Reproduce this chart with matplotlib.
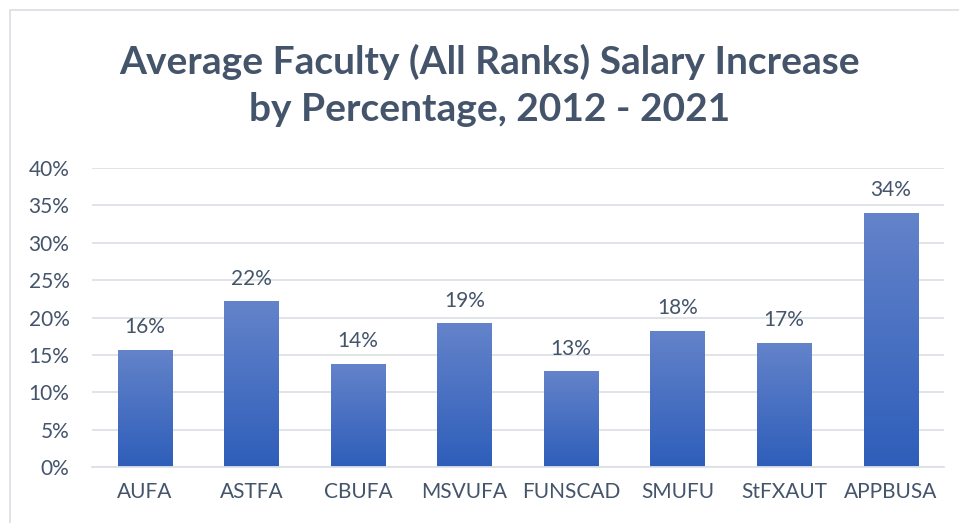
import matplotlib.pyplot as plt
import numpy as np
from matplotlib.patches import Rectangle
from matplotlib.ticker import FuncFormatter

categories = ['AUFA', 'ASTFA', 'CBUFA', 'MSVUFA', 'FUNSCAD', 'SMUFU', 'StFXAUT', 'APPBUSA']
values = [15.7, 22.2, 13.8, 19.2, 12.8, 18.2, 16.6, 34.0]
labels = ['16%', '22%', '14%', '19%', '13%', '18%', '17%', '34%']
yticks = [0, 5, 10, 15, 20, 25, 30, 35, 40]

plt.rcParams['font.family'] = ['Lato', 'DejaVu Sans']
txt = '#44546A'

fig = plt.figure(figsize=(9.59, 5.23), dpi=100)
ax = fig.add_axes([91.7 / 959, 1 - 467 / 523, (944 - 91.7) / 959, (467 - 168) / 523])

# outer chart frame
fig.patches.append(Rectangle((10 / 959, -0.05), 1.1, 1 - 10 / 523 + 0.05, transform=fig.transFigure,
                             fill=False, edgecolor='#D9DDE3', linewidth=1.2))

x = np.arange(len(categories))
w = 0.51
bars = ax.bar(x, values, width=w, color='none', zorder=2)

# vertical gradient fill, lighter at the top
top = np.array([100, 131, 202]) / 255
bot = np.array([46, 94, 186]) / 255
t = np.linspace(0, 1, 256)[:, None]
grad = (bot * (1 - t) + top * t)[:, None, :]
for b in bars:
    x0, y0 = b.get_x(), b.get_y()
    im = ax.imshow(grad, extent=[x0, x0 + b.get_width(), y0, y0 + b.get_height()],
                   origin='lower', aspect='auto', zorder=2)
    im.set_clip_path(b)

for xi, v, lab in zip(x, values, labels):
    ax.annotate(lab, (xi, v), xytext=(0, 9), textcoords='offset points',
                ha='center', va='bottom', fontsize=15, color=txt)

ax.set_xlim(-0.5, len(categories) - 0.5)
ax.set_ylim(0, 40)
ax.set_yticks(yticks)
ax.yaxis.set_major_formatter(FuncFormatter(lambda v, p: f'{v:.0f}%'))
ax.set_xticks(x)
ax.set_xticklabels(categories)
ax.tick_params(length=0, labelsize=15, labelcolor=txt)
ax.tick_params(axis='y', pad=16)
ax.tick_params(axis='x', pad=11)
ax.grid(axis='y', color='#DDE1E6', linewidth=1.3, zorder=0)
for s in ['top', 'right', 'left']:
    ax.spines[s].set_visible(False)
ax.spines['bottom'].set_color('#DDE1E6')
ax.spines['bottom'].set_linewidth(1.3)
ax.set_facecolor('none')

fig.text(490 / 959, 1 - 85 / 523, 'Average Faculty (All Ranks) Salary Increase\nby Percentage, 2012 - 2021',
         ha='center', va='center', fontsize=28, fontweight='bold', color=txt, linespacing=1.42)

fig.savefig('out.png', dpi=100)
